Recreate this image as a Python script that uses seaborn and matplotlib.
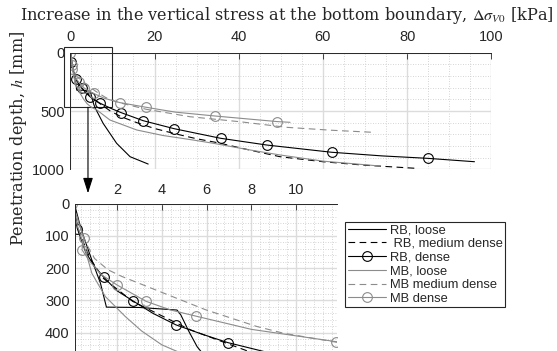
import seaborn as sns
import matplotlib.pyplot as plt
from matplotlib.lines import Line2D
from matplotlib.patches import Rectangle
from matplotlib.ticker import MultipleLocator

# stress increase [kPa] vs penetration depth [mm]
rb_loose_x = [0.1, 0.4, 0.88, 1.26, 1.53, 3.0, 4.68, 4.85, 5.2, 5.58, 6.0, 7.8, 11.0, 14.2, 18.5]
rb_loose_y = [0, 80, 175, 246, 321, 322, 330, 345, 395, 444, 480, 606, 777, 892, 955]

rb_med_x = [0.05, 0.3, 0.8, 1.4, 2.7, 4.7, 5.3, 7.0, 9.5, 12, 15.8, 20, 25, 30, 35, 42, 49.8, 60, 70, 82.3]
rb_med_y = [10, 85, 170, 232, 303, 372, 392, 436, 500, 548, 600, 650, 696, 738, 772, 830, 892, 935, 965, 992]

rb_dense_x = [0.05, 0.23, 0.6, 1.0, 1.41, 2.0, 2.7, 3.6, 4.63, 5.8, 6.94, 9.5, 12.07, 17.3, 24.7, 35.7,
              46.7, 62.1, 74, 84.9, 96]
rb_dense_y = [10, 77, 150, 195, 228, 270, 301, 340, 376, 405, 431, 475, 514, 583, 652, 734,
              792, 854, 885, 906, 935]
rb_dense_marks = [1, 4, 6, 8, 10, 12, 13, 14, 15, 16, 17, 19]

mb_loose_x = [0.05, 0.2, 0.58, 0.88, 1.48, 2.37, 3.1, 4.0, 5.0, 6.3, 9.4, 15.8, 22, 29.2, 34, 42, 49.8, 60, 73.6]
mb_loose_y = [0, 60, 143, 216, 288, 350, 395, 438, 468, 491, 577, 663, 710, 749, 777, 830, 877, 930, 972]

mb_med_x = [0.05, 0.3, 0.6, 1.0, 1.6, 2.23, 3.71, 5.95, 8.24, 9.43, 11.8, 18, 28.4, 40.3, 51.4, 62, 72]
mb_med_y = [0, 60, 120, 170, 205, 226, 267, 329, 381, 402, 430, 485, 549, 592, 640, 665, 683]

mb_dense_x = [0, 0.3, 0.51, 0.44, 0.8, 1.3, 2.0, 3.3, 4.4, 5.53, 8.0, 11.76, 18.0, 25, 34.4, 49.2, 52.2]
mb_dense_y = [0, 60, 107, 143, 180, 220, 252, 303, 330, 349, 390, 428, 468, 510, 543, 591, 597]
mb_dense_marks = [0, 2, 3, 6, 7, 9, 11, 12, 14, 15]

labels = ['RB, loose', ' RB, medium dense', 'RB, dense', 'MB, loose', 'MB medium dense', 'MB dense']

GRAY = '0.55'
DASH = (0, (6, 4))
series = [
    (rb_loose_x, rb_loose_y, 'k', '-', None),
    (rb_med_x, rb_med_y, 'k', DASH, None),
    (rb_dense_x, rb_dense_y, 'k', '-', rb_dense_marks),
    (mb_loose_x, mb_loose_y, GRAY, '-', None),
    (mb_med_x, mb_med_y, GRAY, DASH, None),
    (mb_dense_x, mb_dense_y, GRAY, '-', mb_dense_marks),
]

sns.set_style("white")
plt.rcParams['font.family'] = ['Liberation Sans', 'DejaVu Sans']
plt.rcParams['mathtext.fontset'] = 'stix'
AX = '#262626'


def draw(ax):
    for x, y, c, ls, marks in series:
        kws = dict(color=c, lw=0.8, linestyle=ls)
        if marks is not None:
            kws.update(marker='o', markevery=marks, ms=7, mfc='none', mec=c, mew=0.8)
        sns.lineplot(x=x, y=y, ax=ax, sort=False, estimator=None, **kws)
    ax.set_xlabel('')
    ax.set_ylabel('')


def style(ax, xpad):
    ax.xaxis.tick_top()
    ax.tick_params(which='major', direction='in', length=4, width=0.6, color=AX,
                   labelcolor=AX, labelsize=10.5)
    ax.tick_params(axis='x', pad=xpad)
    ax.tick_params(axis='y', pad=4)
    ax.tick_params(which='minor', length=0)
    ax.grid(which='major', color='#dcdcdc', lw=1.0, ls='-')
    ax.grid(which='minor', color='#c8c8c8', lw=0.6, ls=(0, (1, 2)))
    ax.set_axisbelow(True)
    for s in ['right', 'bottom']:
        ax.spines[s].set_visible(False)
    for s in ['top', 'left']:
        ax.spines[s].set_color(AX)
        ax.spines[s].set_linewidth(0.7)


W, H = 557, 351
fig = plt.figure(figsize=(W / 100, H / 100), dpi=100)

ax1 = fig.add_axes([70.3 / W, 1 - 169.3 / H, 421 / W, 116.6 / H])
draw(ax1)
ax1.set_xlim(0, 100)
ax1.set_ylim(1000, 0)
ax1.set_xticks([0, 20, 40, 60, 80, 100])
ax1.set_yticks([0, 500, 1000])
ax1.xaxis.set_minor_locator(MultipleLocator(5))
ax1.yaxis.set_minor_locator(MultipleLocator(100))
style(ax1, 6.5)

ax2 = fig.add_axes([75.3 / W, 1 - 353.5 / H, 261.2 / W, 149.7 / H])
draw(ax2)
ax2.set_xlim(0.14, 11.8)
ax2.set_ylim(465, 0)
ax2.set_xticks([2, 4, 6, 8, 10])
ax2.set_yticks([0, 100, 200, 300, 400])
ax2.xaxis.set_minor_locator(MultipleLocator(0.4))
ax2.yaxis.set_minor_locator(MultipleLocator(20))
style(ax2, 5)

# zoom box and arrow
ax1.add_patch(Rectangle((-1.4, -46), 11.4, 514, fill=False, ec=AX, lw=0.8, clip_on=False))
ax1.annotate('', xy=(4.2, 1206), xytext=(4.2, 468), annotation_clip=False,
             arrowprops=dict(arrowstyle='-|>,head_length=0.47,head_width=0.15', mutation_scale=20,
                             color='k', lw=0.8, shrinkA=0, shrinkB=0))

fig.text(287 / W, 1 - 20 / H,
         r'Increase in the vertical stress at the bottom boundary, $\Delta\sigma_{V0}$ [kPa]',
         ha='center', va='baseline', fontsize=11.6, family='DejaVu Serif')
fig.text(19 / W, 1 - 138 / H, r'Penetration depth, $h$ [mm]', rotation=90,
         ha='center', va='center', fontsize=11.6, family='DejaVu Serif')

handles = []
for x, y, c, ls, marks in series:
    handles.append(Line2D([], [], color=c, lw=0.8, linestyle=ls,
                          marker='o' if marks else None, ms=7, mfc='none', mec=c, mew=0.8))
leg = fig.legend(handles, labels, loc='upper left', bbox_to_anchor=(345 / W, 1 - 221.6 / H),
                 frameon=True, fancybox=False, edgecolor=AX, framealpha=1, borderaxespad=0,
                 prop={'family': 'Liberation Sans', 'size': 9.3}, handlelength=3.0,
                 handletextpad=0.25, labelspacing=0.13, borderpad=0.2)
leg.get_frame().set_linewidth(0.8)

fig.savefig('out.png', dpi=100)
